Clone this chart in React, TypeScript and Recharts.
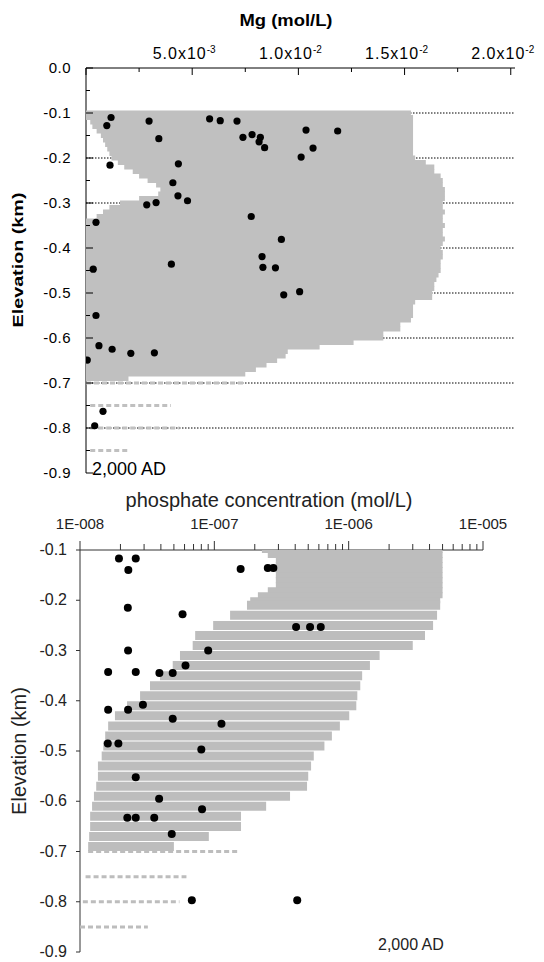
import React from "react";
import { ScatterChart, Scatter, XAxis, YAxis, CartesianGrid } from "recharts";

const FONT = '"Liberation Sans", Arial, Helvetica, sans-serif';
const MG_GRAY = "#c0c0c0";
const PH_GRAY = "#bdbdbd";
const PH_AXIS = "#333";

// ---- Mg panel: model envelope, one row per 0.01 km (mol/L) ----
const mgRowElev = [
  -0.1, -0.11, -0.12, -0.13, -0.14, -0.15, -0.16, -0.17, -0.18, -0.19,
  -0.2, -0.21, -0.22, -0.23, -0.24, -0.25, -0.26, -0.27, -0.28, -0.29,
  -0.3, -0.31, -0.32, -0.33, -0.34, -0.35, -0.36, -0.37, -0.38, -0.39,
  -0.4, -0.41, -0.42, -0.43, -0.44, -0.45, -0.46, -0.47, -0.48, -0.49,
  -0.5, -0.51, -0.52, -0.53, -0.54, -0.55, -0.56, -0.57, -0.58, -0.59,
  -0.6, -0.61, -0.62, -0.63, -0.64, -0.65, -0.66, -0.67, -0.68, -0.69,
];
const mgRowLo = [
  0, 0, 0.0002, 0.0003, 0.0005, 0.0007, 0.0008, 0.0009, 0.001, 0.0011,
  0.0012, 0.0015, 0.0018, 0.0022, 0.0025, 0.0029, 0.0033, 0.0035, 0.0034, 0.0025,
  0.0016, 0.0011, 0.0008, 0.0005, 0, 0, 0, 0, 0, 0,
  0, 0, 0, 0, 0, 0, 0, 0, 0, 0,
  0, 0, 0, 0, 0, 0, 0, 0, 0, 0,
  0, 0, 0, 0, 0, 0, 0, 0, 0, 0,
];
const mgRowHi = [
  0.0153, 0.0154, 0.0154, 0.0154, 0.0154, 0.0154, 0.0154, 0.0154, 0.0154, 0.0154,
  0.0155, 0.016, 0.0164, 0.0164, 0.0167, 0.0168, 0.0168, 0.0169, 0.0169, 0.0169,
  0.0168, 0.0168, 0.0169, 0.0168, 0.0168, 0.0169, 0.0168, 0.0168, 0.0169, 0.0168,
  0.0167, 0.0168, 0.0168, 0.0167, 0.0167, 0.0167, 0.0166, 0.0165, 0.0164, 0.0164,
  0.0163, 0.0163, 0.0155, 0.0154, 0.0154, 0.0154, 0.0153, 0.0148, 0.0148, 0.014,
  0.014, 0.0126, 0.011, 0.0095, 0.0094, 0.009, 0.0085, 0.008, 0.0075, 0.002,
];
const mgSparseElev = [-0.7, -0.75, -0.8, -0.85];
const mgSparseLo = [0, 0.0002, 0.0002, 0.0002];
const mgSparseHi = [0.0074, 0.004, 0.0044, 0.002];

// measured Mg
const mgDotX = [
  0.00118, 0.00098, 0.00297, 0.00343, 0.00582, 0.00632, 0.00711, 0.00739, 0.00782, 0.00821,
  0.00815, 0.00841, 0.01036, 0.01185, 0.01069, 0.01013, 0.00113, 0.00435, 0.00409, 0.00433,
  0.00478, 0.00286, 0.0033, 0.00047, 0.00778, 0.0092, 0.00034, 0.00402, 0.00829, 0.00833,
  0.00892, 0.00931, 0.01006, 0.00047, 0.00006, 0.00061, 0.00123, 0.00211, 0.00322, 0.0008,
  0.00041,
];
const mgDotElev = [
  -0.11, -0.128, -0.118, -0.157, -0.113, -0.117, -0.118, -0.154, -0.148, -0.154,
  -0.164, -0.177, -0.138, -0.14, -0.178, -0.198, -0.216, -0.213, -0.255, -0.284,
  -0.295, -0.304, -0.299, -0.343, -0.33, -0.381, -0.447, -0.436, -0.419, -0.443,
  -0.444, -0.504, -0.497, -0.55, -0.649, -0.617, -0.625, -0.634, -0.633, -0.763,
  -0.795,
];

const mgXTicks = [0, 0.0025, 0.005, 0.0075, 0.01, 0.0125, 0.015, 0.0175, 0.02];
const mgYTicks = [
  0, -0.05, -0.1, -0.15, -0.2, -0.25, -0.3, -0.35, -0.4, -0.45,
  -0.5, -0.55, -0.6, -0.65, -0.7, -0.75, -0.8, -0.85, -0.9,
];
const mgGridLines = [-0.1, -0.2, -0.3, -0.4, -0.5, -0.6, -0.7, -0.8];

// ---- phosphate panel (mol/L, log axis) ----
const phTopElev = [-0.1, -0.11, -0.12, -0.13, -0.14, -0.15, -0.16, -0.17, -0.18, -0.19, -0.2];
const phTopLo = [2.26e-7, 2.5e-7, 2.87e-7, 2.87e-7, 2.87e-7, 2.87e-7, 2.87e-7, 2.87e-7, 2.5e-7, 2.11e-7, 1.85e-7];
const phTopHi = [5e-6, 5e-6, 5e-6, 5e-6, 5e-6, 5e-6, 5e-6, 5e-6, 5e-6, 5e-6, 4.8e-6];

const phBandElev = [
  -0.21, -0.23, -0.25, -0.27, -0.29, -0.31, -0.33, -0.35, -0.37, -0.39,
  -0.41, -0.43, -0.45, -0.47, -0.49, -0.51, -0.53, -0.55, -0.57, -0.59,
  -0.61, -0.63, -0.65, -0.67, -0.69,
];
const phBandLo = [
  1.75e-7, 1.31e-7, 9.8e-8, 7.2e-8, 6.9e-8, 5.55e-8, 4.9e-8, 3.94e-8, 3.32e-8, 2.8e-8,
  2.24e-8, 1.82e-8, 1.62e-8, 1.54e-8, 1.49e-8, 1.45e-8, 1.36e-8, 1.36e-8, 1.32e-8, 1.27e-8,
  1.23e-8, 1.19e-8, 1.19e-8, 1.17e-8, 1.15e-8,
];
const phBandHi = [
  4.8e-6, 4.55e-6, 4.25e-6, 3.7e-6, 3.0e-6, 1.7e-6, 1.44e-6, 1.26e-6, 1.22e-6, 1.16e-6,
  1.14e-6, 1.01e-6, 8.6e-7, 7.5e-7, 6.6e-7, 5.5e-7, 5.25e-7, 5.0e-7, 4.9e-7, 3.66e-7,
  2.43e-7, 1.58e-7, 1.58e-7, 9.1e-8, 5.0e-8,
];
const phSparseElev = [-0.7, -0.75, -0.8, -0.85];
const phSparseLo = [1.15e-8, 1.1e-8, 1.05e-8, 1e-8];
const phSparseHi = [1.5e-7, 6.2e-8, 5.5e-8, 3.2e-8];

// measured phosphate
const phDotX = [
  1.95e-8, 2.6e-8, 2.29e-8, 1.57e-7, 2.5e-7, 2.75e-7, 2.27e-8, 5.8e-8, 4.06e-7, 5.16e-7,
  6.2e-7, 2.28e-8, 9.0e-8, 6.1e-8, 1.62e-8, 2.6e-8, 3.9e-8, 4.9e-8, 2.94e-8, 1.62e-8,
  2.28e-8, 4.9e-8, 1.13e-7, 1.61e-8, 1.93e-8, 8.0e-8, 2.6e-8, 3.88e-8, 8.1e-8, 2.25e-8,
  2.6e-8, 3.57e-8, 4.82e-8, 6.8e-8, 4.14e-7,
];
const phDotElev = [
  -0.117, -0.117, -0.14, -0.138, -0.136, -0.136, -0.215, -0.228, -0.253, -0.253,
  -0.253, -0.3, -0.3, -0.33, -0.343, -0.343, -0.345, -0.345, -0.408, -0.418,
  -0.418, -0.436, -0.446, -0.485, -0.485, -0.497, -0.552, -0.595, -0.616, -0.633,
  -0.633, -0.633, -0.665, -0.797, -0.797,
];

const phXTicks = [
  1e-8, 2e-8, 3e-8, 4e-8, 5e-8, 6e-8, 7e-8, 8e-8, 9e-8,
  1e-7, 2e-7, 3e-7, 4e-7, 5e-7, 6e-7, 7e-7, 8e-7, 9e-7,
  1e-6, 2e-6, 3e-6, 4e-6, 5e-6, 6e-6, 7e-6, 8e-6, 9e-6,
  1e-5,
];
const phYTicks = [-0.1, -0.2, -0.3, -0.4, -0.5, -0.6, -0.7, -0.8, -0.9];

const blank = () => <g />;
const dotShape = (r: number) => (p: any) => <circle cx={p.cx} cy={p.cy} r={r} fill="#000" />;

// each envelope row is a horizontal segment from its low to its high value
function envelopeRows(
  name: string,
  elev: number[],
  lo: number[],
  hi: number[],
  color: string,
  width: number,
  dash?: string
) {
  return elev.map((e, i) => (
    <Scatter
      key={`${name}${i}`}
      data={[
        { x: lo[i], y: e },
        { x: hi[i], y: e },
      ]}
      fill={color}
      line={{ stroke: color, strokeWidth: width, strokeDasharray: dash }}
      shape={blank}
      legendType="none"
      isAnimationActive={false}
    />
  ));
}

const MgXTick = (props: any) => {
  const { x, y, payload } = props;
  const v = payload.value as number;
  const major = Math.abs(v / 0.005 - Math.round(v / 0.005)) < 1e-6;
  let label = null;
  if (major && v > 0) {
    const exp = Math.floor(Math.log10(v) + 1e-9);
    const mant = (v / Math.pow(10, exp)).toFixed(1);
    label = (
      <text x={x - 8} y={y - 9} textAnchor="middle" fontSize={16} letterSpacing={1} fill="#000">
        {mant}x10
        <tspan dy={-6} fontSize={10} letterSpacing={0}>
          {exp}
        </tspan>
      </text>
    );
  }
  return (
    <g>
      <line x1={x} y1={y} x2={x} y2={y + (major ? 7 : 4)} stroke="#000" />
      {label}
    </g>
  );
};

const MgYTick = (props: any) => {
  const { x, y, payload } = props;
  const v = payload.value as number;
  const major = Math.abs(v * 10 - Math.round(v * 10)) < 1e-6;
  return (
    <g>
      <line x1={x} y1={y} x2={x + (major ? 7 : 4)} y2={y} stroke="#000" />
      {major && (
        <text x={x - 15} y={y} dy={5} textAnchor="end" fontSize={15} letterSpacing={0.5} fill="#000">
          {v === 0 ? "0.0" : v.toFixed(1)}
        </text>
      )}
    </g>
  );
};

const PhXTick = (props: any) => {
  const { x, y, payload } = props;
  const lg = Math.log10(payload.value as number);
  const decade = Math.abs(lg - Math.round(lg)) < 1e-6;
  return (
    <g>
      <line x1={x} y1={y} x2={x} y2={y - (decade ? 9 : 6)} stroke={PH_AXIS} />
      {decade && (
        <text x={x} y={y - 21} textAnchor="middle" fontSize={15} fill="#222">
          {"1E-" + String(-Math.round(lg)).padStart(3, "0")}
        </text>
      )}
    </g>
  );
};

const PhYTick = (props: any) => {
  const { x, y, payload } = props;
  return (
    <g>
      <line x1={x - 4} y1={y} x2={x} y2={y} stroke={PH_AXIS} />
      <text x={x - 13} y={y} dy={5} textAnchor="end" fontSize={16} fill="#222">
        {(payload.value as number).toFixed(1)}
      </text>
    </g>
  );
};

const mgDots = mgDotX.map((x, i) => ({ x, y: mgDotElev[i] }));
const phDots = phDotX.map((x, i) => ({ x, y: phDotElev[i] }));

export default function App() {
  return (
    <div
      style={{
        position: "absolute",
        left: 0,
        top: 0,
        width: 544,
        height: 962,
        background: "#fff",
        fontFamily: FONT,
      }}
    >
      <div style={{ position: "absolute", left: 0, top: 0 }}>
        <ScatterChart width={544} height={490} margin={{ top: 38, right: 29, bottom: 17, left: 26 }}>
          <CartesianGrid
            vertical={false}
            horizontalValues={mgGridLines}
            stroke="#000"
            strokeDasharray="1.5 1.5"
          />
          <XAxis
            type="number"
            dataKey="x"
            orientation="top"
            domain={[0, 0.0202]}
            ticks={mgXTicks}
            interval={0}
            height={30}
            tick={MgXTick}
            tickLine={false}
            tickSize={0}
            tickMargin={0}
            axisLine={{ stroke: "#000" }}
            allowDataOverflow
          />
          <YAxis
            type="number"
            dataKey="y"
            domain={[-0.9, 0]}
            ticks={mgYTicks}
            interval={0}
            width={60}
            tick={MgYTick}
            tickLine={false}
            tickSize={0}
            tickMargin={0}
            axisLine={{ stroke: "#000" }}
            allowDataOverflow
          />
          {envelopeRows("mg", mgRowElev, mgRowLo, mgRowHi, MG_GRAY, 5)}
          {envelopeRows("mgs", mgSparseElev, mgSparseLo, mgSparseHi, MG_GRAY, 3, "5 3")}
          <Scatter data={mgDots} fill="#000" shape={dotShape(3.6)} isAnimationActive={false} />
        </ScatterChart>
      </div>

      <div style={{ position: "absolute", left: 0, top: 480 }}>
        <ScatterChart width={544} height={482} margin={{ top: 20, right: 61, bottom: 10, left: 20 }}>
          <XAxis
            type="number"
            dataKey="x"
            scale="log"
            orientation="top"
            domain={[1e-8, 1e-5]}
            ticks={phXTicks}
            interval={0}
            height={50}
            tick={PhXTick}
            tickLine={false}
            tickSize={0}
            tickMargin={0}
            axisLine={{ stroke: PH_AXIS }}
            allowDataOverflow
          />
          <YAxis
            type="number"
            dataKey="y"
            domain={[-0.9, -0.1]}
            ticks={phYTicks}
            interval={0}
            width={60}
            tick={PhYTick}
            tickLine={false}
            tickSize={0}
            tickMargin={0}
            axisLine={{ stroke: PH_AXIS }}
            allowDataOverflow
          />
          {envelopeRows("pht", phTopElev, phTopLo, phTopHi, PH_GRAY, 6)}
          {envelopeRows("phb", phBandElev, phBandLo, phBandHi, PH_GRAY, 9)}
          {envelopeRows("phs", phSparseElev, phSparseLo, phSparseHi, PH_GRAY, 3, "5 3")}
          <Scatter data={phDots} fill="#000" shape={dotShape(4)} isAnimationActive={false} />
        </ScatterChart>
      </div>

      <svg
        width={544}
        height={962}
        style={{ position: "absolute", left: 0, top: 0, pointerEvents: "none" }}
      >
        <text x={286} y={26} textAnchor="middle" fontSize={16} fontWeight="bold" textLength={93} lengthAdjust="spacingAndGlyphs" fill="#000">
          Mg (mol/L)
        </text>
        <text
          transform="translate(23,260) rotate(-90)"
          textAnchor="middle"
          fontSize={14.5}
          fontWeight="bold"
          textLength={135}
          lengthAdjust="spacingAndGlyphs"
          fill="#000"
        >
          Elevation (km)
        </text>
        <text x={92} y={475} fontSize={18} fill="#000">
          2,000 AD
        </text>

        <text x={269} y={507} textAnchor="middle" fontSize={20} fill="#222">
          phosphate concentration (mol/L)
        </text>
        <text transform="translate(26,751) rotate(-90)" textAnchor="middle" fontSize={20} fill="#222">
          Elevation (km)
        </text>
        <text x={378} y={950} fontSize={16} fill="#222">
          2,000 AD
        </text>
      </svg>
    </div>
  );
}
